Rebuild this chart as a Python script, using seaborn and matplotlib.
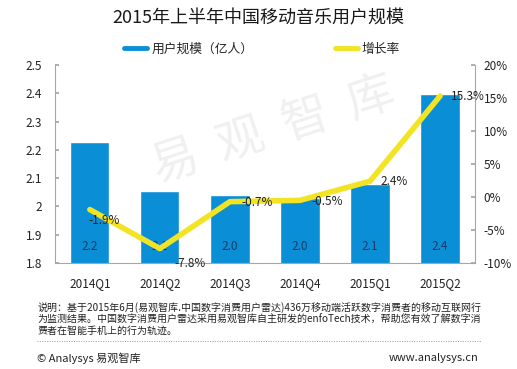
import numpy as np
import pandas as pd
import matplotlib
matplotlib.use("Agg")
import matplotlib.pyplot as plt
from matplotlib.lines import Line2D
import seaborn as sns

# Data
quarters = ["2014Q1", "2014Q2", "2014Q3", "2014Q4", "2015Q1", "2015Q2"]
users = [2.228, 2.054, 2.040, 2.030, 2.080, 2.397]   # 亿人
user_labels = ["2.2", "2.1", "2.0", "2.0", "2.1", "2.4"]
growth = [-1.9, -7.8, -0.7, -0.5, 2.4, 15.3]          # %
growth_labels = ["-1.9%", "-7.8%", "-0.7%", "-0.5%", "2.4%", "15.3%"]
note_lines = [
    "说明：基于2015年6月(易观智库.中国数字消费用户雷达)436万移动端活跃数字消费者的移动互联网行",
    "为监测结果。中国数字消费用户雷达采用易观智库自主研发的enfoTech技术，帮助您有效了解数字消",
    "费者在智能手机上的行为轨迹。",
]

BLUE = "#0a8fd6"
YELLOW = "#f2e424"
GRAY = "#a6a6a6"
TEXT = "#222222"

sns.set_theme(style="white")
plt.rcParams["font.family"] = ["Noto Sans CJK SC", "DejaVu Sans"]

fig = plt.figure(figsize=(5.17, 3.69), dpi=100)
ax = fig.add_axes([0.106, 0.287, 0.813, 0.537])
ax.patch.set_visible(False)

df = pd.DataFrame({"quarter": quarters, "users": users})
sns.barplot(data=df, x="quarter", y="users", color=BLUE, saturation=1,
            width=0.56, ax=ax)
ax.set_ylim(1.8, 2.5)
ax.set_yticks(np.arange(1.8, 2.51, 0.1))
ax.set_yticklabels(["1.8", "1.9", "2", "2.1", "2.2", "2.3", "2.4", "2.5"])
ax.set_xlabel("")
ax.set_ylabel("")

# bar value labels near the bottom of each bar
for i, lab in enumerate(user_labels):
    ax.text(i, 1.857, lab, ha="center", va="center", fontsize=8.5, color="#1f3864")

ax2 = ax.twinx()
sns.lineplot(x=np.arange(len(quarters)), y=growth, ax=ax2, color=YELLOW,
             linewidth=4, solid_capstyle="round")
ax2.set_ylim(-10, 20)
ax2.set_yticks(np.arange(-10, 21, 5))
ax2.set_yticklabels([f"{v}%" for v in range(-10, 21, 5)])
ax.set_xlim(-0.5, len(quarters) - 0.5)

# growth labels: (x offset from point, label y in %)
label_dx = [-0.02, 0.21, 0.16, 0.17, 0.15, 0.15]
label_y = [-3.5, -10.0, -0.9, -0.6, 2.3, 15.2]
for i, lab in enumerate(growth_labels):
    ax2.text(i + label_dx[i], label_y[i], lab, ha="left", va="center",
             fontsize=8.5, color=TEXT)

for a in (ax, ax2):
    a.spines["top"].set_visible(False)
    for s in ["left", "right", "bottom"]:
        a.spines[s].set_color(GRAY)
        a.spines[s].set_linewidth(0.8)
ax.spines["right"].set_visible(False)
ax2.spines["left"].set_visible(False)
ax2.spines["bottom"].set_visible(False)

ax.tick_params(axis="y", direction="in", length=3, color=GRAY, labelsize=8.5,
               labelcolor=TEXT, pad=9)
ax.tick_params(axis="x", length=0, labelsize=8.5, labelcolor=TEXT, pad=10)
ax2.tick_params(axis="y", direction="in", length=3, color=GRAY, labelsize=8.5,
                labelcolor=TEXT, pad=6)

# watermark
fig.text(0.53, 0.645, "易  观  智  库", fontsize=34, color="#f0f0f0", rotation=18,
         ha="center", va="center", zorder=-1)

fig.text(0.5, 0.951, "2015年上半年中国移动音乐用户规模", ha="center", va="center",
         fontsize=13, color="#1a1a1a")

fig.legend([Line2D([0], [0], color=BLUE, lw=3.5)], ["用户规模（亿人）"], loc="center",
           bbox_to_anchor=(0.365, 0.867), frameon=False, fontsize=9.2,
           handlelength=1.8, handletextpad=0.3)
fig.legend([Line2D([0], [0], color=YELLOW, lw=3.5)], ["增长率"], loc="center",
           bbox_to_anchor=(0.71, 0.867), frameon=False, fontsize=9.2,
           handlelength=1.8, handletextpad=0.3)

for k, line in enumerate(note_lines):
    fig.text(0.073, 0.166 - 0.032 * k, line, ha="left", va="center",
             fontsize=7.2, color=TEXT)
fig.add_artist(Line2D([0.072, 0.93], [0.076, 0.076], transform=fig.transFigure,
                      color="#999999", lw=0.7, linestyle=(0, (1, 1.5))))
fig.text(0.072, 0.030, "© Analysys 易观智库", ha="left", va="center", fontsize=8,
         color=TEXT)
fig.text(0.925, 0.030, "www.analysys.cn", ha="right", va="center", fontsize=8,
         color=TEXT)

fig.savefig("out.png", dpi=100)
